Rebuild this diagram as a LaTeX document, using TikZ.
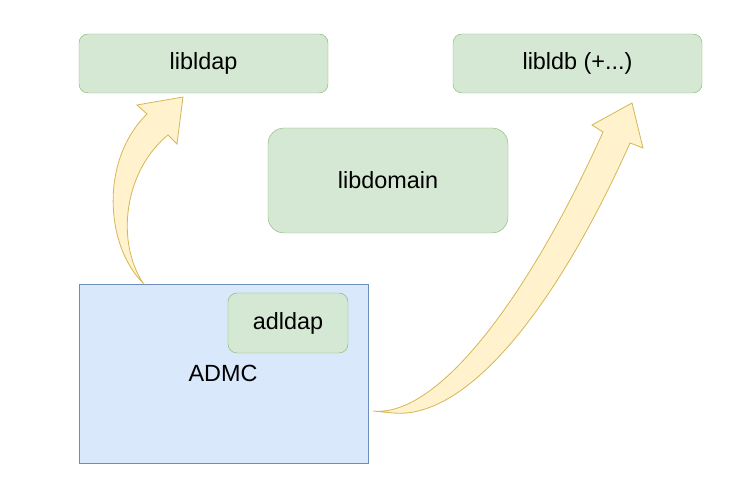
\documentclass[tikz,border=0pt]{standalone}
\usepackage{fontspec}
\setmainfont{Liberation Sans}
\usepackage{xcolor}
\usetikzlibrary{positioning,calc}
\definecolor{libfill}{HTML}{D5E8D4}
\definecolor{libline}{HTML}{82B366}
\definecolor{appfill}{HTML}{DAE8FC}
\definecolor{appline}{HTML}{6C8EBF}
\definecolor{arrfill}{HTML}{FFF2CC}
\definecolor{arrline}{HTML}{D6B656}
\begin{document}
\begin{tikzpicture}[x=1pt,y=-1pt,font=\fontsize{23.4}{28}\selectfont,
  lib/.style={draw=libline,fill=libfill,rounded corners=9pt,minimum width=249pt,minimum height=59pt,inner sep=0pt},
  app/.style={draw=appline,fill=appfill,minimum width=289pt,minimum height=179pt,inner sep=0pt},
  flex/.style={draw=arrline,fill=arrfill,line width=0.8pt,line join=miter}]
\useasboundingbox (0,0) rectangle (753,502);
% application box with its own lib inside
\node[app] (admc) at (223.5,373.5) {};
\node (admclbl) at (223,373) {ADMC};
\node[lib,minimum width=120pt,minimum height=60pt] (adldap) at (288,323) {adldap};
% libraries on top
\node[lib] (libldap) at (203.5,63.5) {libldap};
\node[lib] (libldb) at (577.5,63.5) {libldb (+...)};
\node[lib,minimum width=240pt,minimum height=105pt,rounded corners=16pt] (libdomain) at (388,180.5) {libdomain};
% curved arrow admc -> libldap
\coordinate (s1) at (143,283);
\draw[flex] (s1) .. controls (105,245) and (100,160) .. (147,114) -- (137,105) -- (183,97)
  -- (177,144) -- (168,135) .. controls (125,170) and (115,240) .. (s1) -- cycle;
% curved arrow admc -> libldb
\coordinate (s2) at (373,411);
\draw[flex] (s2) .. controls (440,418) and (532,290) .. (603,132) -- (592,125) -- (632,103)
  -- (643,148) -- (630,143) .. controls (560,300) and (470,420) .. (393,413) -- (s2) -- cycle;
\end{tikzpicture}
\end{document}
